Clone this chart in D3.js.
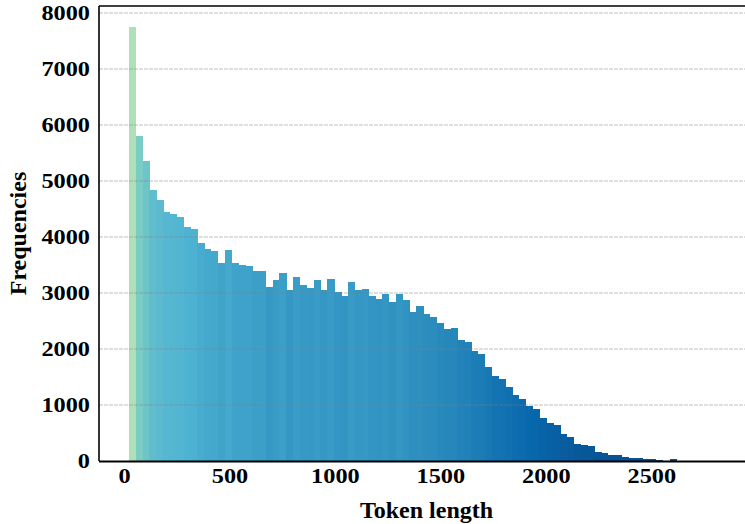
<!DOCTYPE html>
<html>
<head>
<meta charset="utf-8">
<script src="https://cdn.jsdelivr.net/npm/d3@7"></script>
<style>
  body { margin: 0; background: #fff; }
  svg text { font-family: "Liberation Serif", "Times New Roman", serif; font-weight: bold; }
</style>
</head>
<body>
<div id="chart"></div>
<script>
// histogram data (token length)
const binStart = 23;
const binWidth = 32.45;
const counts = [
  7744, 5804, 5351, 4833, 4655, 4446, 4405, 4351, 4173, 4137,
  3893, 3786, 3744, 3530, 3762, 3530, 3494, 3476, 3387, 3387,
  3107, 3226, 3351, 3048, 3286, 3140, 3086, 3226, 3054, 3244,
  3012, 2940, 3190, 3054, 3071, 2940, 2893, 2976, 2833, 2976,
  2869, 2655, 2762, 2619, 2565, 2458, 2351, 2369, 2155, 2119,
  1958, 1905, 1673, 1512, 1470, 1327, 1185, 1113, 982, 929,
  768, 685, 643, 482, 429, 304, 286, 268, 161, 143,
  107, 107, 71, 45, 45, 32, 32, 14, 8, 34,
  3, 2, 1, 0, 1, 0, 1
];
const xTicks = [0, 500, 1000, 1500, 2000, 2500];
const yTicks = [0, 1000, 2000, 3000, 4000, 5000, 6000, 7000, 8000];

const bins = counts.map((c, i) => ({
  x0: binStart + i * binWidth,
  x1: binStart + (i + 1) * binWidth,
  count: c
}));

// layout
const W = 745, H = 524;
const margin = { top: 6, right: -9, bottom: 63, left: 99 };
const width = W - margin.left - margin.right;
const height = H - margin.top - margin.bottom;

// matplotlib GnBu (linear segments)
const gnbu = ["#f7fcf0", "#e0f3db", "#ccebc5", "#a8ddb5", "#7bccc4", "#4eb3d3", "#2b8cbe", "#0868ac", "#084081"];
const cmap = d3.scaleLinear().domain(d3.range(9).map(i => i / 8)).range(gnbu).clamp(true);
const hmax = d3.max(counts);
const colorOf = c => cmap(0.95 - 0.6 * c / hmax);

const x = d3.scaleLinear().domain([-118.5, 2987]).range([0, width]);
const y = d3.scaleLinear().domain([0, 8125]).range([height, 0]);

const svg = d3.select("#chart").append("svg")
  .attr("width", W)
  .attr("height", H);

const g = svg.append("g")
  .attr("transform", `translate(${margin.left},${margin.top})`);

// bars
g.selectAll("rect.bar")
  .data(bins)
  .join("rect")
  .attr("class", "bar")
  .attr("x", d => x(d.x0))
  .attr("width", d => x(d.x1) - x(d.x0) + 0.5)
  .attr("y", d => y(d.count))
  .attr("height", d => y(0) - y(d.count))
  .attr("fill", d => colorOf(d.count))
  .attr("shape-rendering", "crispEdges");

// horizontal gridlines (drawn over the bars)
g.selectAll("line.grid")
  .data(yTicks.slice(1))
  .join("line")
  .attr("class", "grid")
  .attr("x1", 0)
  .attr("x2", width)
  .attr("y1", d => y(d))
  .attr("y2", d => y(d))
  .attr("stroke", "#808080")
  .attr("stroke-opacity", 0.5)
  .attr("stroke-width", 1)
  .attr("stroke-dasharray", "4,1");

// y axis
g.append("g")
  .call(d3.axisLeft(y).tickValues(yTicks).tickFormat(d3.format("d")).tickSize(0).tickPadding(8))
  .call(a => a.select(".domain").remove())
  .selectAll("text")
  .style("font-size", "21.5px")
  .attr("fill", "#000")
  .attr("transform", "scale(1.13,1)");

// x axis
g.append("g")
  .attr("transform", `translate(0,${height})`)
  .call(d3.axisBottom(x).tickValues(xTicks).tickFormat(d3.format("d")).tickSize(0).tickPadding(7))
  .call(a => a.select(".domain").remove())
  .selectAll("text")
  .style("font-size", "21.5px")
  .attr("fill", "#000")
  .attr("transform", "scale(1.13,1)");

// spines
g.append("line").attr("x1", 0).attr("x2", 0).attr("y1", 0).attr("y2", height)
  .attr("stroke", "#000").attr("stroke-width", 1.6);
g.append("line").attr("x1", 0).attr("x2", width).attr("y1", height + 0.5).attr("y2", height + 0.5)
  .attr("stroke", "#000").attr("stroke-width", 2);
g.append("line").attr("x1", 0).attr("x2", width).attr("y1", 0).attr("y2", 0)
  .attr("stroke", "#000").attr("stroke-width", 1.6);
g.append("line").attr("x1", width).attr("x2", width).attr("y1", 0).attr("y2", height)
  .attr("stroke", "#000").attr("stroke-width", 1.6);

// axis labels
g.append("text")
  .attr("x", width / 2)
  .attr("y", height + 57)
  .attr("text-anchor", "middle")
  .style("font-size", "24px")
  .text("Token length");

g.append("text")
  .attr("transform", "rotate(-90)")
  .attr("x", -height / 2)
  .attr("y", -73)
  .attr("text-anchor", "middle")
  .style("font-size", "24px")
  .text("Frequencies");
</script>
</body>
</html>
